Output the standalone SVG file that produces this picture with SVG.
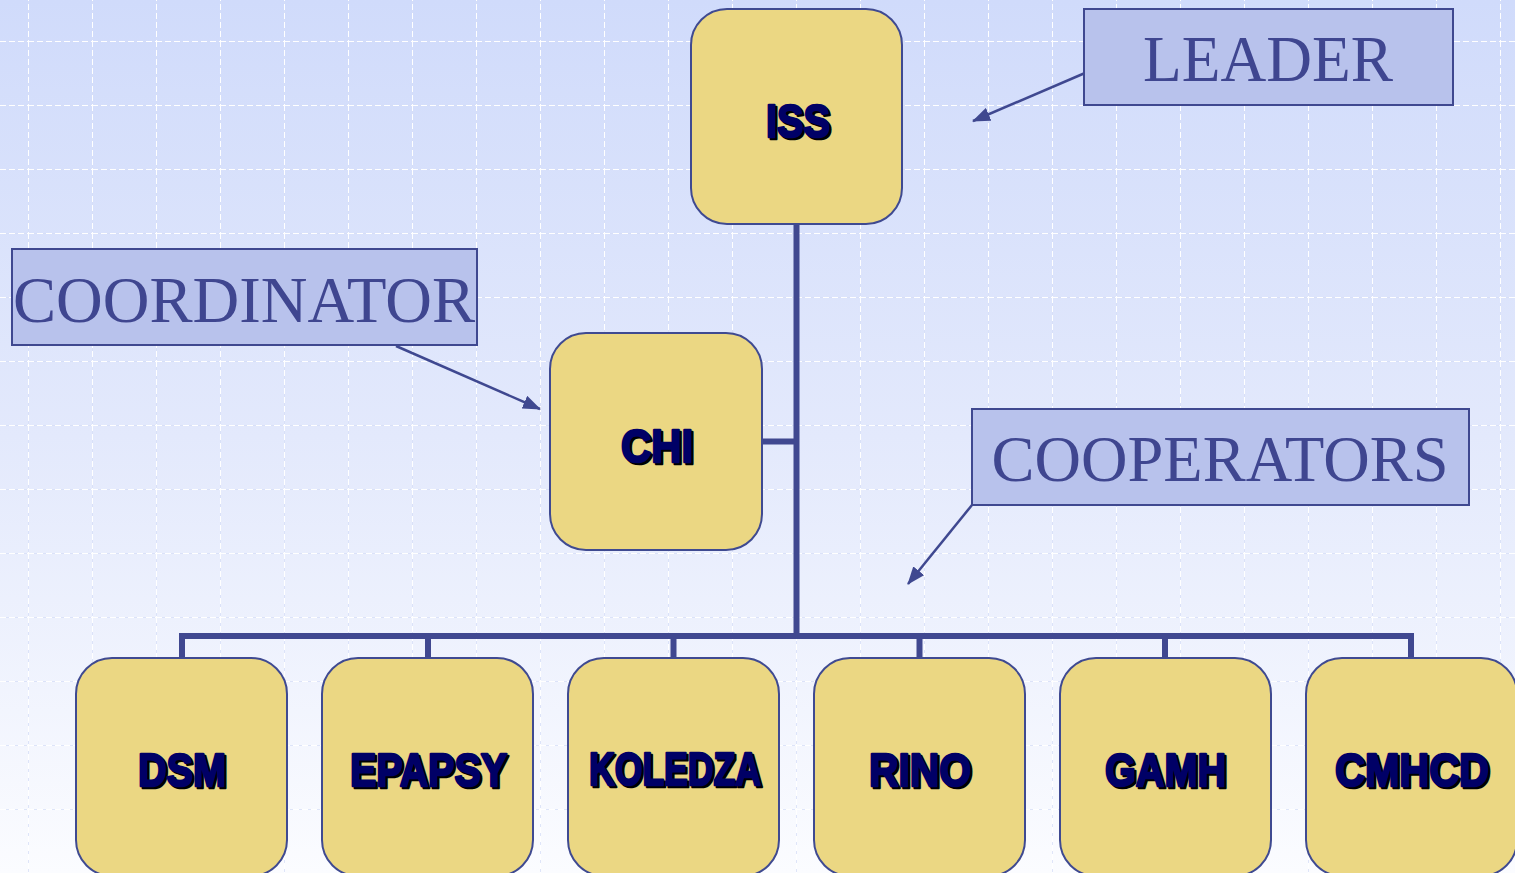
<svg xmlns="http://www.w3.org/2000/svg" width="1515" height="873" viewBox="0 0 1515 873">
<defs>
<linearGradient id="bg" x1="0" y1="0" x2="0" y2="1">
<stop offset="0" stop-color="#d0dbfb"/>
<stop offset="0.5" stop-color="#e3e9fc"/>
<stop offset="1" stop-color="#fbfcff"/>
</linearGradient>
<pattern id="grid" x="28" y="41" width="64" height="64" patternUnits="userSpaceOnUse">
<path d="M0 0V64M0 0H64" fill="none" stroke="#d6def8" stroke-width="1.5"/>
<path d="M0 0V64M0 0H64" fill="none" stroke="#ffffff" stroke-width="2" stroke-dasharray="6 3"/>
</pattern>
<marker id="arr" viewBox="0 0 18 14" refX="17" refY="7" markerWidth="18" markerHeight="14" markerUnits="userSpaceOnUse" orient="auto">
<path d="M0 0L18 7L0 14Z" fill="#3f4890"/>
</marker>
<style>
.node rect{fill:#ebd783;stroke:#3f4a91;stroke-width:2}
.nt{font-family:"Liberation Sans",Arial,sans-serif;font-weight:bold;font-size:47px;text-anchor:middle;stroke-linejoin:round}
.sh{fill:#000000;stroke:#000000;stroke-width:2.6}
.fg{fill:#000066;stroke:#000066;stroke-width:2.6}
.lab rect{fill:#b8c2ec;stroke:#3f4890;stroke-width:2}
.lt{font-family:"Liberation Serif","Times New Roman",serif;font-size:66px;fill:#3f4690;text-anchor:middle}
.conn{stroke:#404890;stroke-width:6;fill:none}
.ptr{stroke:#3f4890;stroke-width:2.5;fill:none}
</style>
</defs>
<rect width="1515" height="873" fill="url(#bg)"/>
<rect width="1515" height="873" fill="url(#grid)"/>

<g id="connectors">
<path class="conn" d="M796.5 224V636M762 441.5H796.5M182 636H1411M182 633V658M428 633V658M673.5 633V658M919.5 633V658M1165 633V658M1411 633V658"/>
<line class="ptr" x1="1085" y1="73" x2="973" y2="121" marker-end="url(#arr)"/>
<line class="ptr" x1="396" y1="346" x2="540" y2="409" marker-end="url(#arr)"/>
<line class="ptr" x1="972" y1="505" x2="908" y2="584" marker-end="url(#arr)"/>
</g>

<g id="node-iss" class="node"><rect x="691" y="9" width="211" height="215" rx="36"/>
<text class="nt sh" x="800" y="139" textLength="64" lengthAdjust="spacingAndGlyphs">ISS</text>
<text class="nt fg" x="798" y="137" textLength="64" lengthAdjust="spacingAndGlyphs">ISS</text></g>

<g id="node-chi" class="node"><rect x="550" y="333" width="212" height="217" rx="36"/>
<text class="nt sh" x="659" y="464" textLength="72" lengthAdjust="spacingAndGlyphs">CHI</text>
<text class="nt fg" x="657" y="462" textLength="72" lengthAdjust="spacingAndGlyphs">CHI</text></g>

<g id="node-dsm" class="node"><rect x="76" y="658" width="211" height="218" rx="36"/>
<text class="nt sh" x="184" y="788" textLength="88" lengthAdjust="spacingAndGlyphs">DSM</text>
<text class="nt fg" x="182" y="786" textLength="88" lengthAdjust="spacingAndGlyphs">DSM</text></g>

<g id="node-epapsy" class="node"><rect x="322" y="658" width="211" height="218" rx="36"/>
<text class="nt sh" x="430.5" y="788" textLength="157" lengthAdjust="spacingAndGlyphs">EPAPSY</text>
<text class="nt fg" x="428.5" y="786" textLength="157" lengthAdjust="spacingAndGlyphs">EPAPSY</text></g>

<g id="node-koledza" class="node"><rect x="568" y="658" width="211" height="218" rx="36"/>
<text class="nt sh" x="677" y="787" textLength="172" lengthAdjust="spacingAndGlyphs">KOLEDZA</text>
<text class="nt fg" x="675" y="785" textLength="172" lengthAdjust="spacingAndGlyphs">KOLEDZA</text></g>

<g id="node-rino" class="node"><rect x="814" y="658" width="211" height="218" rx="36"/>
<text class="nt sh" x="922" y="788" textLength="102" lengthAdjust="spacingAndGlyphs">RINO</text>
<text class="nt fg" x="920" y="786" textLength="102" lengthAdjust="spacingAndGlyphs">RINO</text></g>

<g id="node-gamh" class="node"><rect x="1060" y="658" width="211" height="218" rx="36"/>
<text class="nt sh" x="1167.5" y="788" textLength="121" lengthAdjust="spacingAndGlyphs">GAMH</text>
<text class="nt fg" x="1165.5" y="786" textLength="121" lengthAdjust="spacingAndGlyphs">GAMH</text></g>

<g id="node-cmhcd" class="node"><rect x="1306" y="658" width="211" height="218" rx="36"/>
<text class="nt sh" x="1414" y="788" textLength="154" lengthAdjust="spacingAndGlyphs">CMHCD</text>
<text class="nt fg" x="1412" y="786" textLength="154" lengthAdjust="spacingAndGlyphs">CMHCD</text></g>

<g id="label-leader" class="lab"><rect x="1084" y="9" width="369" height="96"/>
<text class="lt" x="1268" y="81" textLength="250" lengthAdjust="spacingAndGlyphs">LEADER</text></g>

<g id="label-coordinator" class="lab"><rect x="12" y="249" width="465" height="96"/>
<text class="lt" x="244" y="322" textLength="462" lengthAdjust="spacingAndGlyphs">COORDINATOR</text></g>

<g id="label-cooperators" class="lab"><rect x="972" y="409" width="497" height="96"/>
<text class="lt" x="1220" y="481" textLength="457" lengthAdjust="spacingAndGlyphs">COOPERATORS</text></g>
</svg>
